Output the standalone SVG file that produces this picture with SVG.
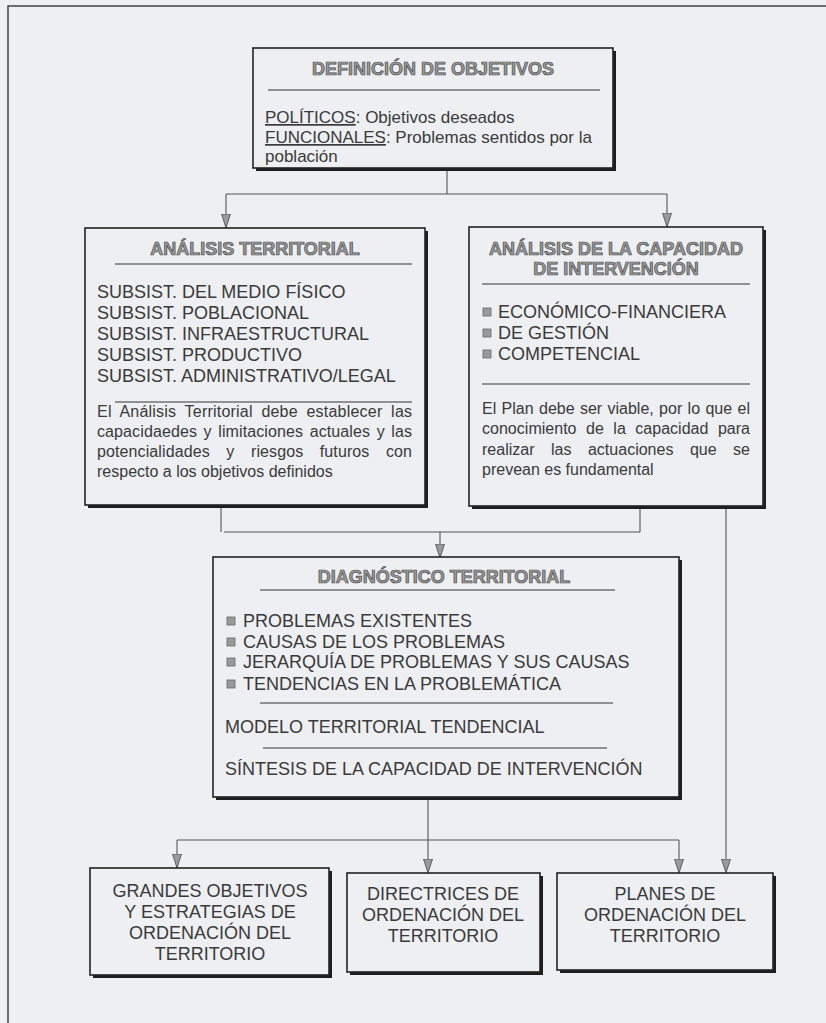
<svg xmlns="http://www.w3.org/2000/svg" width="826" height="1023" viewBox="0 0 826 1023">
<defs>
<style>
.t{font-family:"Liberation Sans",Arial,sans-serif;fill:#3a3a3a}
.h{font-family:"Liberation Sans",Arial,sans-serif;font-weight:bold;font-size:18px;fill:#9a9a9a;stroke:#4a4a4a;stroke-width:0.7px}
.big{font-size:18px}
.par{font-size:16px}
.sm{font-size:17px}
.box{fill:#edeff3;stroke:#222;stroke-width:1.6}
.sh{fill:#1e1e1e}
.sep{stroke:#333;stroke-width:1}
.bl{fill:#9a9a9a;stroke:#666;stroke-width:0.8}
.c{fill:none;stroke:#555;stroke-width:1.1}
.ca{fill:none;stroke:#555;stroke-width:1.1;marker-end:url(#ah)}
</style>
<marker id="ah" viewBox="0 0 14 10" refX="14" refY="5" markerWidth="14" markerHeight="10" markerUnits="userSpaceOnUse" orient="auto">
<path d="M0,0.5 L14,5 L0,9.5 Z" fill="#9a9a9a" stroke="#555" stroke-width="0.9"/>
</marker>
</defs>
<rect x="0" y="0" width="826" height="1023" fill="#edeff3"/>
<path d="M8,1023 V6 H826" fill="none" stroke="#444" stroke-width="1.5"/>

<g id="connectors">
<path class="c" d="M447,171 V194"/>
<path class="c" d="M226,194 H667"/>
<path class="ca" d="M226,194 V228"/>
<path class="ca" d="M667,194 V227"/>
<path class="c" d="M221,508 V532"/>
<path class="c" d="M224,532 H640"/>
<path class="c" d="M640,509 V532"/>
<path class="ca" d="M440,532 V558"/>
<path class="ca" d="M726,509 V873"/>
<path class="ca" d="M428,800 V873"/>
<path class="c" d="M177,840 H679"/>
<path class="ca" d="M177,840 V868"/>
<path class="ca" d="M679,840 V873"/>
</g>

<g id="definicion-objetivos">
<rect class="sh" x="256" y="51" width="360" height="120"/>
<rect class="box" x="253" y="48" width="360" height="120"/>
<text class="h" x="433" y="75" text-anchor="middle">DEFINICIÓN DE OBJETIVOS</text>
<line class="sep" x1="268" y1="90" x2="600" y2="90"/>
<text class="t sm" x="265" y="123"><tspan text-decoration="underline">POLÍTICOS</tspan>: Objetivos deseados</text>
<text class="t sm" x="265" y="143"><tspan text-decoration="underline">FUNCIONALES</tspan>: Problemas sentidos por la</text>
<text class="t sm" x="265" y="162">población</text>
</g>

<g id="analisis-territorial">
<rect class="sh" x="88" y="231" width="340" height="277"/>
<rect class="box" x="85" y="228" width="340" height="277"/>
<text class="h" x="255" y="255" text-anchor="middle">ANÁLISIS TERRITORIAL</text>
<line class="sep" x1="115" y1="264" x2="412" y2="264"/>
<text class="t big" x="97" y="298">SUBSIST. DEL MEDIO FÍSICO</text>
<text class="t big" x="97" y="319">SUBSIST. POBLACIONAL</text>
<text class="t big" x="97" y="340">SUBSIST. INFRAESTRUCTURAL</text>
<text class="t big" x="97" y="361">SUBSIST. PRODUCTIVO</text>
<text class="t big" x="97" y="382">SUBSIST. ADMINISTRATIVO/LEGAL</text>
<line class="sep" x1="115" y1="402" x2="412" y2="402"/>
<text class="t par" x="97" y="417" textLength="315" lengthAdjust="spacing" word-spacing="4">El Análisis Territorial debe establecer las</text>
<text class="t par" x="97" y="437" textLength="315" lengthAdjust="spacing" word-spacing="2">capacidaedes y limitaciones actuales y las</text>
<text class="t par" x="97" y="457" textLength="315" lengthAdjust="spacing" word-spacing="12">potencialidades y riesgos futuros con</text>
<text class="t par" x="97" y="477">respecto a los objetivos definidos</text>
</g>

<g id="analisis-capacidad">
<rect class="sh" x="472" y="230" width="294" height="279"/>
<rect class="box" x="469" y="227" width="294" height="279"/>
<text class="h" x="616" y="255" text-anchor="middle">ANÁLISIS DE LA CAPACIDAD</text>
<text class="h" x="616" y="275" text-anchor="middle">DE INTERVENCIÓN</text>
<line class="sep" x1="482" y1="284" x2="750" y2="284"/>
<rect class="bl" x="483" y="308" width="8" height="8"/>
<text class="t big" x="498" y="318">ECONÓMICO-FINANCIERA</text>
<rect class="bl" x="483" y="329" width="8" height="8"/>
<text class="t big" x="498" y="339">DE GESTIÓN</text>
<rect class="bl" x="483" y="350" width="8" height="8"/>
<text class="t big" x="498" y="360">COMPETENCIAL</text>
<line class="sep" x1="482" y1="384" x2="750" y2="384"/>
<text class="t par" x="482" y="414" textLength="268" lengthAdjust="spacing" word-spacing="1">El Plan debe ser viable, por lo que el</text>
<text class="t par" x="482" y="434" textLength="268" lengthAdjust="spacing" word-spacing="5">conocimiento de la capacidad para</text>
<text class="t par" x="482" y="455" textLength="268" lengthAdjust="spacing" word-spacing="12">realizar las actuaciones que se</text>
<text class="t par" x="482" y="475">prevean es fundamental</text>
</g>

<g id="diagnostico-territorial">
<rect class="sh" x="216" y="560" width="466" height="240"/>
<rect class="box" x="213" y="557" width="466" height="240"/>
<text class="h" x="444" y="583" text-anchor="middle">DIAGNÓSTICO TERRITORIAL</text>
<line class="sep" x1="260" y1="590" x2="615" y2="590"/>
<rect class="bl" x="227" y="617" width="8" height="8"/>
<text class="t big" x="243" y="627">PROBLEMAS EXISTENTES</text>
<rect class="bl" x="227" y="638" width="8" height="8"/>
<text class="t big" x="243" y="648">CAUSAS DE LOS PROBLEMAS</text>
<rect class="bl" x="227" y="658" width="8" height="8"/>
<text class="t big" x="243" y="668">JERARQUÍA DE PROBLEMAS Y SUS CAUSAS</text>
<rect class="bl" x="227" y="680" width="8" height="8"/>
<text class="t big" x="243" y="690">TENDENCIAS EN LA PROBLEMÁTICA</text>
<line class="sep" x1="260" y1="703" x2="613" y2="703"/>
<text class="t big" x="225" y="733">MODELO TERRITORIAL TENDENCIAL</text>
<line class="sep" x1="263" y1="748" x2="607" y2="748"/>
<text class="t big" x="225" y="775">SÍNTESIS DE LA CAPACIDAD DE INTERVENCIÓN</text>
</g>

<g id="grandes-objetivos">
<rect class="sh" x="93" y="871" width="239" height="107"/>
<rect class="box" x="90" y="868" width="239" height="107"/>
<text class="t big" x="210" y="897" text-anchor="middle">GRANDES OBJETIVOS</text>
<text class="t big" x="210" y="918" text-anchor="middle">Y ESTRATEGIAS DE</text>
<text class="t big" x="210" y="939" text-anchor="middle">ORDENACIÓN DEL</text>
<text class="t big" x="210" y="960" text-anchor="middle">TERRITORIO</text>
</g>

<g id="directrices">
<rect class="sh" x="350" y="876" width="193" height="99"/>
<rect class="box" x="347" y="873" width="193" height="99"/>
<text class="t big" x="443" y="900" text-anchor="middle">DIRECTRICES DE</text>
<text class="t big" x="443" y="921" text-anchor="middle">ORDENACIÓN DEL</text>
<text class="t big" x="443" y="942" text-anchor="middle">TERRITORIO</text>
</g>

<g id="planes">
<rect class="sh" x="560" y="876" width="216" height="97"/>
<rect class="box" x="557" y="873" width="216" height="97"/>
<text class="t big" x="665" y="900" text-anchor="middle">PLANES DE</text>
<text class="t big" x="665" y="921" text-anchor="middle">ORDENACIÓN DEL</text>
<text class="t big" x="665" y="942" text-anchor="middle">TERRITORIO</text>
</g>
</svg>
